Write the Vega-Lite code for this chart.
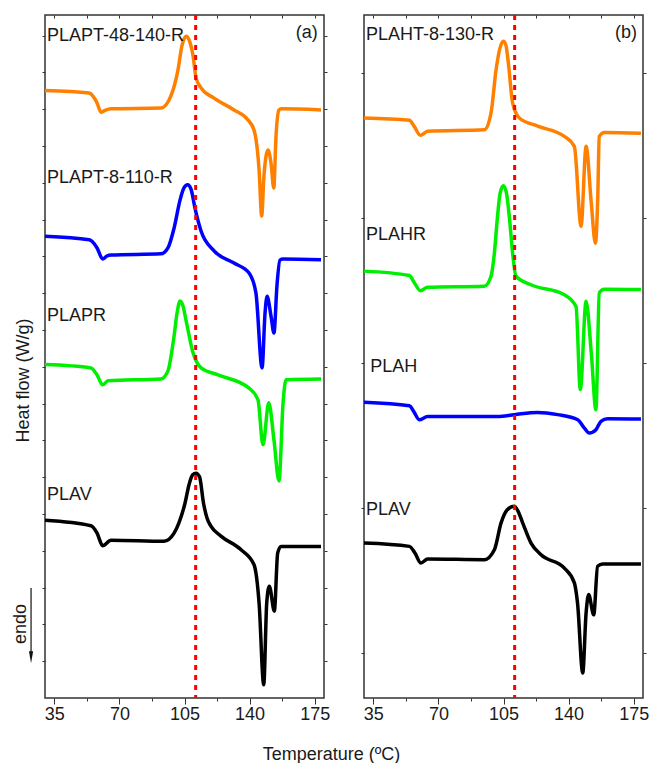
{
  "$schema": "https://vega.github.io/schema/vega-lite/v6.json",
  "background": "white",
  "padding": {"left": 11, "top": 12, "right": 5, "bottom": 5},
  "spacing": 40,
  "bounds": "flush",
  "config": {
    "view": {"stroke": "#333333", "strokeWidth": 1.5},
    "axis": {
      "labelFont": "Liberation Sans", "titleFont": "Liberation Sans",
      "labelFontSize": 18, "titleFontSize": 18, "titleFontWeight": "normal",
      "labelColor": "#1a1a1a", "titleColor": "#1a1a1a",
      "tickColor": "#333333", "tickWidth": 1, "domain": false, "grid": false,
      "labelFlush": false, "labelOverlap": false
    },
    "text": {"font": "Liberation Sans", "fontSize": 18, "color": "#1a1a1a"}
  },
  "datasets": {
    "aCurves": [
      {"series": "PLAPT-48-140-R", "temp": 30, "hf": 16.51},
      {"series": "PLAPT-48-140-R", "temp": 53.7, "hf": 16.44},
      {"series": "PLAPT-48-140-R", "temp": 58.0, "hf": 16.17},
      {"series": "PLAPT-48-140-R", "temp": 60.1, "hf": 15.92},
      {"series": "PLAPT-48-140-R", "temp": 62.3, "hf": 15.97},
      {"series": "PLAPT-48-140-R", "temp": 65.5, "hf": 16.01},
      {"series": "PLAPT-48-140-R", "temp": 92.4, "hf": 16.03},
      {"series": "PLAPT-48-140-R", "temp": 97.7, "hf": 16.36},
      {"series": "PLAPT-48-140-R", "temp": 101.5, "hf": 17.07},
      {"series": "PLAPT-48-140-R", "temp": 103.7, "hf": 17.74},
      {"series": "PLAPT-48-140-R", "temp": 105.8, "hf": 17.98},
      {"series": "PLAPT-48-140-R", "temp": 107.7, "hf": 17.85},
      {"series": "PLAPT-48-140-R", "temp": 109.6, "hf": 17.45},
      {"series": "PLAPT-48-140-R", "temp": 111.2, "hf": 16.85},
      {"series": "PLAPT-48-140-R", "temp": 113.9, "hf": 16.58},
      {"series": "PLAPT-48-140-R", "temp": 120.9, "hf": 16.30},
      {"series": "PLAPT-48-140-R", "temp": 131.6, "hf": 15.98},
      {"series": "PLAPT-48-140-R", "temp": 139.1, "hf": 15.71},
      {"series": "PLAPT-48-140-R", "temp": 142.4, "hf": 15.43},
      {"series": "PLAPT-48-140-R", "temp": 145.1, "hf": 14.35},
      {"series": "PLAPT-48-140-R", "temp": 146.5, "hf": 13.10},
      {"series": "PLAPT-48-140-R", "temp": 147.7, "hf": 14.18},
      {"series": "PLAPT-48-140-R", "temp": 149.9, "hf": 14.89},
      {"series": "PLAPT-48-140-R", "temp": 151.5, "hf": 14.54},
      {"series": "PLAPT-48-140-R", "temp": 153.0, "hf": 13.86},
      {"series": "PLAPT-48-140-R", "temp": 154.2, "hf": 15.27},
      {"series": "PLAPT-48-140-R", "temp": 155.8, "hf": 15.98},
      {"series": "PLAPT-48-140-R", "temp": 156.9, "hf": 16.01},
      {"series": "PLAPT-48-140-R", "temp": 178.4, "hf": 15.98},

      {"series": "PLAPT-8-110-R", "temp": 30, "hf": 12.55},
      {"series": "PLAPT-8-110-R", "temp": 53.7, "hf": 12.45},
      {"series": "PLAPT-8-110-R", "temp": 58.0, "hf": 12.23},
      {"series": "PLAPT-8-110-R", "temp": 61.0, "hf": 11.93},
      {"series": "PLAPT-8-110-R", "temp": 63.3, "hf": 12.01},
      {"series": "PLAPT-8-110-R", "temp": 65.5, "hf": 12.04},
      {"series": "PLAPT-8-110-R", "temp": 92.4, "hf": 12.07},
      {"series": "PLAPT-8-110-R", "temp": 96.1, "hf": 12.23},
      {"series": "PLAPT-8-110-R", "temp": 99.4, "hf": 12.77},
      {"series": "PLAPT-8-110-R", "temp": 102.6, "hf": 13.53},
      {"series": "PLAPT-8-110-R", "temp": 104.7, "hf": 13.86},
      {"series": "PLAPT-8-110-R", "temp": 106.7, "hf": 13.95},
      {"series": "PLAPT-8-110-R", "temp": 108.5, "hf": 13.83},
      {"series": "PLAPT-8-110-R", "temp": 110.6, "hf": 13.32},
      {"series": "PLAPT-8-110-R", "temp": 113.9, "hf": 12.69},
      {"series": "PLAPT-8-110-R", "temp": 120.9, "hf": 12.15},
      {"series": "PLAPT-8-110-R", "temp": 131.6, "hf": 11.82},
      {"series": "PLAPT-8-110-R", "temp": 139.7, "hf": 11.55},
      {"series": "PLAPT-8-110-R", "temp": 143.4, "hf": 11.01},
      {"series": "PLAPT-8-110-R", "temp": 146.7, "hf": 8.97},
      {"series": "PLAPT-8-110-R", "temp": 148.3, "hf": 10.46},
      {"series": "PLAPT-8-110-R", "temp": 149.4, "hf": 10.92},
      {"series": "PLAPT-8-110-R", "temp": 151.5, "hf": 10.38},
      {"series": "PLAPT-8-110-R", "temp": 153.1, "hf": 9.92},
      {"series": "PLAPT-8-110-R", "temp": 154.7, "hf": 11.20},
      {"series": "PLAPT-8-110-R", "temp": 156.3, "hf": 11.90},
      {"series": "PLAPT-8-110-R", "temp": 158.0, "hf": 11.93},
      {"series": "PLAPT-8-110-R", "temp": 178.4, "hf": 11.91},

      {"series": "PLAPR", "temp": 30, "hf": 9.06},
      {"series": "PLAPR", "temp": 54.7, "hf": 8.97},
      {"series": "PLAPR", "temp": 58.0, "hf": 8.78},
      {"series": "PLAPR", "temp": 61.0, "hf": 8.51},
      {"series": "PLAPR", "temp": 63.9, "hf": 8.62},
      {"series": "PLAPR", "temp": 92.4, "hf": 8.67},
      {"series": "PLAPR", "temp": 96.1, "hf": 8.89},
      {"series": "PLAPR", "temp": 99.4, "hf": 9.84},
      {"series": "PLAPR", "temp": 101.0, "hf": 10.46},
      {"series": "PLAPR", "temp": 102.6, "hf": 10.79},
      {"series": "PLAPR", "temp": 104.2, "hf": 10.65},
      {"series": "PLAPR", "temp": 105.8, "hf": 10.27},
      {"series": "PLAPR", "temp": 109.6, "hf": 9.38},
      {"series": "PLAPR", "temp": 113.9, "hf": 8.97},
      {"series": "PLAPR", "temp": 123.0, "hf": 8.78},
      {"series": "PLAPR", "temp": 139.7, "hf": 8.42},
      {"series": "PLAPR", "temp": 144.5, "hf": 8.10},
      {"series": "PLAPR", "temp": 147.2, "hf": 6.88},
      {"series": "PLAPR", "temp": 150.3, "hf": 8.02},
      {"series": "PLAPR", "temp": 153.1, "hf": 7.01},
      {"series": "PLAPR", "temp": 155.8, "hf": 5.90},
      {"series": "PLAPR", "temp": 158.0, "hf": 8.02},
      {"series": "PLAPR", "temp": 159.6, "hf": 8.65},
      {"series": "PLAPR", "temp": 178.4, "hf": 8.67},

      {"series": "PLAV", "temp": 30, "hf": 4.83},
      {"series": "PLAV", "temp": 54.7, "hf": 4.68},
      {"series": "PLAV", "temp": 58.0, "hf": 4.48},
      {"series": "PLAV", "temp": 61.0, "hf": 4.14},
      {"series": "PLAV", "temp": 65.5, "hf": 4.29},
      {"series": "PLAV", "temp": 94.0, "hf": 4.26},
      {"series": "PLAV", "temp": 99.4, "hf": 4.48},
      {"series": "PLAV", "temp": 102.0, "hf": 4.76},
      {"series": "PLAV", "temp": 105.3, "hf": 5.30},
      {"series": "PLAV", "temp": 107.4, "hf": 5.79},
      {"series": "PLAV", "temp": 109.3, "hf": 6.06},
      {"series": "PLAV", "temp": 111.2, "hf": 6.11},
      {"series": "PLAV", "temp": 113.1, "hf": 6.01},
      {"series": "PLAV", "temp": 115.2, "hf": 5.30},
      {"series": "PLAV", "temp": 117.1, "hf": 4.89},
      {"series": "PLAV", "temp": 119.2, "hf": 4.67},
      {"series": "PLAV", "temp": 124.6, "hf": 4.40},
      {"series": "PLAV", "temp": 135.4, "hf": 4.03},
      {"series": "PLAV", "temp": 142.4, "hf": 3.62},
      {"series": "PLAV", "temp": 145.1, "hf": 2.58},
      {"series": "PLAV", "temp": 147.6, "hf": 0.36},
      {"series": "PLAV", "temp": 149.2, "hf": 2.58},
      {"series": "PLAV", "temp": 150.6, "hf": 3.04},
      {"series": "PLAV", "temp": 153.3, "hf": 2.36},
      {"series": "PLAV", "temp": 155.1, "hf": 3.94},
      {"series": "PLAV", "temp": 156.9, "hf": 4.12},
      {"series": "PLAV", "temp": 178.4, "hf": 4.12}
    ],
    "bCurves": [
      {"series": "PLAHT-8-130-R", "temp": 30, "hf": 15.76},
      {"series": "PLAHT-8-130-R", "temp": 54.4, "hf": 15.70},
      {"series": "PLAHT-8-130-R", "temp": 56.9, "hf": 15.54},
      {"series": "PLAHT-8-130-R", "temp": 60.3, "hf": 15.29},
      {"series": "PLAHT-8-130-R", "temp": 64.2, "hf": 15.40},
      {"series": "PLAHT-8-130-R", "temp": 94.7, "hf": 15.44},
      {"series": "PLAHT-8-130-R", "temp": 98.3, "hf": 15.90},
      {"series": "PLAHT-8-130-R", "temp": 101.0, "hf": 17.07},
      {"series": "PLAHT-8-130-R", "temp": 103.1, "hf": 17.66},
      {"series": "PLAHT-8-130-R", "temp": 104.9, "hf": 17.85},
      {"series": "PLAHT-8-130-R", "temp": 106.3, "hf": 17.74},
      {"series": "PLAHT-8-130-R", "temp": 107.6, "hf": 17.26},
      {"series": "PLAHT-8-130-R", "temp": 109.9, "hf": 16.17},
      {"series": "PLAHT-8-130-R", "temp": 113.5, "hf": 15.76},
      {"series": "PLAHT-8-130-R", "temp": 123.4, "hf": 15.54},
      {"series": "PLAHT-8-130-R", "temp": 137.7, "hf": 15.26},
      {"series": "PLAHT-8-130-R", "temp": 143.1, "hf": 14.99},
      {"series": "PLAHT-8-130-R", "temp": 146.7, "hf": 12.82},
      {"series": "PLAHT-8-130-R", "temp": 149.4, "hf": 14.99},
      {"series": "PLAHT-8-130-R", "temp": 152.2, "hf": 13.45},
      {"series": "PLAHT-8-130-R", "temp": 154.4, "hf": 12.36},
      {"series": "PLAHT-8-130-R", "temp": 155.6, "hf": 13.45},
      {"series": "PLAHT-8-130-R", "temp": 156.5, "hf": 15.26},
      {"series": "PLAHT-8-130-R", "temp": 159.2, "hf": 15.37},
      {"series": "PLAHT-8-130-R", "temp": 178.9, "hf": 15.35},

      {"series": "PLAHR", "temp": 30, "hf": 11.60},
      {"series": "PLAHR", "temp": 54.4, "hf": 11.48},
      {"series": "PLAHR", "temp": 56.9, "hf": 11.30},
      {"series": "PLAHR", "temp": 60.3, "hf": 11.07},
      {"series": "PLAHR", "temp": 64.2, "hf": 11.16},
      {"series": "PLAHR", "temp": 94.7, "hf": 11.19},
      {"series": "PLAHR", "temp": 98.3, "hf": 11.46},
      {"series": "PLAHR", "temp": 100.1, "hf": 12.09},
      {"series": "PLAHR", "temp": 101.7, "hf": 13.04},
      {"series": "PLAHR", "temp": 103.2, "hf": 13.72},
      {"series": "PLAHR", "temp": 104.9, "hf": 13.92},
      {"series": "PLAHR", "temp": 106.6, "hf": 13.72},
      {"series": "PLAHR", "temp": 108.2, "hf": 13.04},
      {"series": "PLAHR", "temp": 109.9, "hf": 12.09},
      {"series": "PLAHR", "temp": 111.7, "hf": 11.46},
      {"series": "PLAHR", "temp": 119.8, "hf": 11.23},
      {"series": "PLAHR", "temp": 137.7, "hf": 10.96},
      {"series": "PLAHR", "temp": 144.0, "hf": 10.64},
      {"series": "PLAHR", "temp": 146.3, "hf": 8.38},
      {"series": "PLAHR", "temp": 149.4, "hf": 10.78},
      {"series": "PLAHR", "temp": 152.2, "hf": 9.38},
      {"series": "PLAHR", "temp": 154.7, "hf": 7.83},
      {"series": "PLAHR", "temp": 156.5, "hf": 11.01},
      {"series": "PLAHR", "temp": 159.2, "hf": 11.11},
      {"series": "PLAHR", "temp": 178.9, "hf": 11.10},

      {"series": "PLAH", "temp": 30, "hf": 8.04},
      {"series": "PLAH", "temp": 54.4, "hf": 7.94},
      {"series": "PLAH", "temp": 56.9, "hf": 7.77},
      {"series": "PLAH", "temp": 59.7, "hf": 7.56},
      {"series": "PLAH", "temp": 64.2, "hf": 7.65},
      {"series": "PLAH", "temp": 101.9, "hf": 7.65},
      {"series": "PLAH", "temp": 110.8, "hf": 7.70},
      {"series": "PLAH", "temp": 123.4, "hf": 7.76},
      {"series": "PLAH", "temp": 134.1, "hf": 7.70},
      {"series": "PLAH", "temp": 144.9, "hf": 7.56},
      {"series": "PLAH", "temp": 148.4, "hf": 7.34},
      {"series": "PLAH", "temp": 151.1, "hf": 7.20},
      {"series": "PLAH", "temp": 154.7, "hf": 7.29},
      {"series": "PLAH", "temp": 157.4, "hf": 7.52},
      {"series": "PLAH", "temp": 161.0, "hf": 7.59},
      {"series": "PLAH", "temp": 178.9, "hf": 7.58},

      {"series": "PLAV", "temp": 30, "hf": 4.21},
      {"series": "PLAV", "temp": 54.4, "hf": 4.12},
      {"series": "PLAV", "temp": 57.4, "hf": 3.94},
      {"series": "PLAV", "temp": 60.6, "hf": 3.67},
      {"series": "PLAV", "temp": 64.2, "hf": 3.78},
      {"series": "PLAV", "temp": 94.7, "hf": 3.76},
      {"series": "PLAV", "temp": 100.1, "hf": 4.03},
      {"series": "PLAV", "temp": 103.7, "hf": 4.76},
      {"series": "PLAV", "temp": 106.9, "hf": 5.11},
      {"series": "PLAV", "temp": 110.8, "hf": 5.21},
      {"series": "PLAV", "temp": 112.8, "hf": 5.08},
      {"series": "PLAV", "temp": 115.3, "hf": 4.76},
      {"series": "PLAV", "temp": 119.8, "hf": 4.21},
      {"series": "PLAV", "temp": 125.2, "hf": 3.89},
      {"series": "PLAV", "temp": 137.7, "hf": 3.53},
      {"series": "PLAV", "temp": 143.1, "hf": 3.13},
      {"series": "PLAV", "temp": 144.8, "hf": 2.58},
      {"series": "PLAV", "temp": 147.6, "hf": 0.68},
      {"series": "PLAV", "temp": 149.4, "hf": 2.31},
      {"series": "PLAV", "temp": 150.8, "hf": 2.81},
      {"series": "PLAV", "temp": 153.5, "hf": 2.26},
      {"series": "PLAV", "temp": 155.6, "hf": 3.58},
      {"series": "PLAV", "temp": 158.3, "hf": 3.64},
      {"series": "PLAV", "temp": 178.9, "hf": 3.64}
    ],
    "aLabels": [
      {"label": "PLAPT-48-140-R", "temp": 31.1, "hf": 17.85},
      {"label": "PLAPT-8-110-R", "temp": 31.1, "hf": 13.99},
      {"label": "PLAPR", "temp": 31.1, "hf": 10.24},
      {"label": "PLAV", "temp": 31.1, "hf": 5.38}
    ],
    "bLabels": [
      {"label": "PLAHT-8-130-R", "temp": 31.1, "hf": 17.88},
      {"label": "PLAHR", "temp": 31.1, "hf": 12.45},
      {"label": "PLAH", "temp": 33.4, "hf": 8.86},
      {"label": "PLAV", "temp": 31.1, "hf": 4.97}
    ]
  },
  "hconcat": [
    {
      "width": 279, "height": 683,
      "resolve": {"axis": {"x": "independent", "y": "independent"}},
      "layer": [
        {
          "data": {"name": "aCurves"},
          "mark": {"type": "line", "strokeWidth": 3.5, "interpolate": "monotone"},
          "encoding": {
            "x": {"field": "temp", "type": "quantitative",
              "scale": {"domain": [30, 180], "nice": false, "zero": false},
              "axis": {"orient": "bottom", "values": [35, 52.5, 70, 87.5, 105, 122.5, 140, 157.5, 175],
                "labelExpr": "datum.value % 35 === 0 ? datum.label : ''",
                "tickSize": {"condition": {"test": "datum.value % 35 === 0", "value": 6}, "value": 3},
                "labelPadding": 1, "title": "Temperature (ºC)", "titleX": 286, "titlePadding": 22}},
            "y": {"field": "hf", "type": "quantitative",
              "scale": {"domain": [0, 18.56], "nice": false, "zero": false},
              "axis": {"orient": "left", "values": [1,2,3,4,5,6,7,8,9,10,11,12,13,14,15,16,17,18],
                "labels": false, "tickSize": 3, "title": "Heat flow (W/g)", "titlePadding": 9, "titleY": 365}},
            "color": {"field": "series", "type": "nominal", "legend": null,
              "scale": {"domain": ["PLAPT-48-140-R", "PLAPT-8-110-R", "PLAPR", "PLAV", "PLAHT-8-130-R", "PLAHR", "PLAH"],
                "range": ["#ff8000", "#0000ff", "#00ee00", "#000000", "#ff8000", "#00ee00", "#0000ff"]}}
          }
        },
        {
          "data": {"name": "aLabels"},
          "mark": {"type": "text", "align": "left", "baseline": "alphabetic"},
          "encoding": {
            "x": {"field": "temp", "type": "quantitative",
              "axis": {"orient": "top", "values": [35, 52.5, 70, 87.5, 105, 122.5, 140, 157.5, 175], "labels": false, "tickSize": -3, "title": null}},
            "y": {"field": "hf", "type": "quantitative",
              "axis": {"orient": "right", "values": [1,2,3,4,5,6,7,8,9,10,11,12,13,14,15,16,17,18], "labels": false, "tickSize": 3, "title": null}},
            "text": {"field": "label"}
          }
        },
        {
          "data": {"values": [{"temp": 111}]},
          "mark": {"type": "rule", "color": "#ff0000", "strokeWidth": 3, "strokeDash": [5, 5]},
          "encoding": {"x": {"field": "temp", "type": "quantitative", "axis": null}}
        },
        {
          "data": {"values": [{"label": "(a)", "temp": 176.6, "hf": 17.93}]},
          "mark": {"type": "text", "align": "right", "baseline": "alphabetic"},
          "encoding": {
            "x": {"field": "temp", "type": "quantitative", "axis": null},
            "y": {"field": "hf", "type": "quantitative", "axis": null},
            "text": {"field": "label"}
          }
        },
        {
          "data": {"values": [{"label": "endo", "temp": 17.1, "hf": 2.01}]},
          "mark": {"type": "text", "align": "center", "baseline": "middle", "angle": 270},
          "encoding": {
            "x": {"field": "temp", "type": "quantitative", "axis": null},
            "y": {"field": "hf", "type": "quantitative", "axis": null},
            "text": {"field": "label"}
          }
        },
        {
          "data": {"values": [{"temp": 22.5, "hf": 2.99, "hf2": 1.22}]},
          "mark": {"type": "rule", "color": "#111111", "strokeWidth": 1.2},
          "encoding": {
            "x": {"field": "temp", "type": "quantitative", "axis": null},
            "y": {"field": "hf", "type": "quantitative", "axis": null},
            "y2": {"field": "hf2"}
          }
        },
        {
          "data": {"values": [{"temp": 22.5, "hf": 1.11}]},
          "mark": {"type": "point", "shape": "M-0.35,-1L0.35,-1L0,1Z", "filled": true, "size": 144, "color": "#111111", "opacity": 1},
          "encoding": {
            "x": {"field": "temp", "type": "quantitative", "axis": null},
            "y": {"field": "hf", "type": "quantitative", "axis": null}
          }
        }
      ]
    },
    {
      "width": 279, "height": 683,
      "resolve": {"axis": {"x": "independent", "y": "independent"}},
      "layer": [
        {
          "data": {"name": "bCurves"},
          "mark": {"type": "line", "strokeWidth": 3.5, "interpolate": "monotone"},
          "encoding": {
            "x": {"field": "temp", "type": "quantitative",
              "scale": {"domain": [30, 180], "nice": false, "zero": false},
              "axis": {"orient": "bottom", "values": [35, 52.5, 70, 87.5, 105, 122.5, 140, 157.5, 175],
                "labelExpr": "datum.value % 35 === 0 ? datum.label : ''",
                "tickSize": {"condition": {"test": "datum.value % 35 === 0", "value": 6}, "value": 3},
                "labelPadding": 1, "title": null}},
            "y": {"field": "hf", "type": "quantitative",
              "scale": {"domain": [0, 18.56], "nice": false, "zero": false},
              "axis": {"orient": "left", "values": [1.22, 5.16, 9.10, 13.04, 16.98],
                "labels": false, "tickSize": 3, "title": null}},
            "color": {"field": "series", "type": "nominal", "legend": null,
              "scale": {"domain": ["PLAPT-48-140-R", "PLAPT-8-110-R", "PLAPR", "PLAV", "PLAHT-8-130-R", "PLAHR", "PLAH"],
                "range": ["#ff8000", "#0000ff", "#00ee00", "#000000", "#ff8000", "#00ee00", "#0000ff"]}}
          }
        },
        {
          "data": {"name": "bLabels"},
          "mark": {"type": "text", "align": "left", "baseline": "alphabetic"},
          "encoding": {
            "x": {"field": "temp", "type": "quantitative",
              "axis": {"orient": "top", "values": [35, 52.5, 70, 87.5, 105, 122.5, 140, 157.5, 175], "labels": false, "tickSize": -3, "title": null}},
            "y": {"field": "hf", "type": "quantitative",
              "axis": {"orient": "right", "values": [1.22, 5.16, 9.10, 13.04, 16.98], "labels": false, "tickSize": 3, "title": null}},
            "text": {"field": "label"}
          }
        },
        {
          "data": {"values": [{"temp": 111}]},
          "mark": {"type": "rule", "color": "#ff0000", "strokeWidth": 3, "strokeDash": [5, 5]},
          "encoding": {"x": {"field": "temp", "type": "quantitative", "axis": null}}
        },
        {
          "data": {"values": [{"label": "(b)", "temp": 176.8, "hf": 17.93}]},
          "mark": {"type": "text", "align": "right", "baseline": "alphabetic"},
          "encoding": {
            "x": {"field": "temp", "type": "quantitative", "axis": null},
            "y": {"field": "hf", "type": "quantitative", "axis": null},
            "text": {"field": "label"}
          }
        }
      ]
    }
  ]
}
